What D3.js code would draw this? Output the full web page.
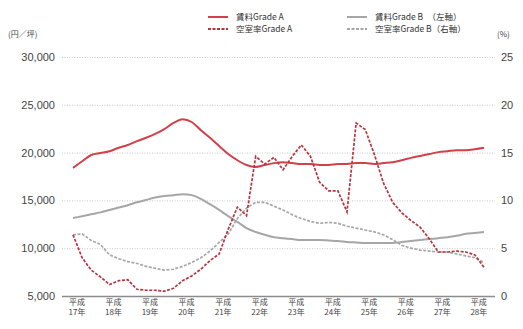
<!DOCTYPE html>
<html>
<head>
<meta charset="utf-8">
<script src="https://cdn.jsdelivr.net/npm/d3@7"></script>
<style>
  body { margin: 0; background: #fff; }
  text { font-family: "Liberation Sans", "Noto Sans CJK JP", sans-serif; }
  .jp { font-family: "Noto Sans CJK JP", sans-serif; }
</style>
</head>
<body>
<svg id="chart" width="523" height="329"></svg>
<script>
// quarterly series, 平成17年 Q1 .. 平成28年 Q2
var years = ['17年','18年','19年','20年','21年','22年','23年','24年','25年','26年','27年','28年'];
var leftTicks = [5000, 10000, 15000, 20000, 25000, 30000];
var rightTicks = [0, 5, 10, 15, 20, 25];

var rentA = [18400,19100,19750,19950,20150,20500,20800,21200,21550,21950,22450,23100,
  23500,23200,22350,21550,20700,19850,19200,18700,18500,18700,18900,19000,
  18900,18800,18800,18700,18700,18800,18800,18900,18900,18800,18900,19000,
  19200,19450,19650,19850,20050,20150,20250,20250,20350,20500];
var rentB = [13150,13350,13550,13750,14000,14250,14500,14800,15050,15300,15450,15550,
  15650,15550,15150,14600,14000,13350,12750,12100,11700,11400,11150,11050,
  10950,10850,10850,10850,10800,10750,10650,10600,10550,10550,10550,10550,
  10650,10750,10850,10950,11050,11150,11300,11500,11600,11700];
var vacA = [6.4,4.0,2.7,2.0,1.2,1.6,1.7,0.7,0.6,0.6,0.5,0.8,
  1.6,2.1,2.8,3.7,4.4,7.0,9.3,8.4,14.6,13.8,14.5,13.2,
  14.6,15.8,14.6,11.9,11.0,11.0,8.8,18.1,17.4,14.8,11.8,9.8,
  8.7,7.9,7.2,6.0,4.6,4.6,4.7,4.6,4.3,3.0];
var vacB = [6.4,6.5,5.8,5.4,4.3,3.9,3.6,3.4,3.1,2.9,2.7,2.8,
  3.1,3.5,4.0,4.7,5.6,6.5,8.1,9.2,9.8,9.8,9.4,9.0,
  8.5,8.1,7.8,7.6,7.7,7.6,7.3,7.1,6.9,6.7,6.4,5.9,
  5.3,5.0,4.8,4.7,4.6,4.6,4.4,4.2,4.0,3.5];

var RED = '#d2404a', RED_D = '#b5343e', GRAY = '#a6a6a6';
var svg = d3.select('#chart');
var plotL = 62, plotR = 495, plotT = 57, plotB = 296;

var x = d3.scaleLinear().domain([0, rentA.length - 1]).range([73, 484]);
var yL = d3.scaleLinear().domain([5000, 30000]).range([plotB, plotT]);
var yR = d3.scaleLinear().domain([0, 25]).range([plotB, plotT]);

// left axis with grid
var gL = svg.append('g').attr('transform', 'translate(' + plotL + ',0)')
  .call(d3.axisLeft(yL).tickValues(leftTicks).tickFormat(d3.format(','))
    .tickSize(-(plotR - plotL)).tickPadding(7));
gL.select('.domain').remove();
gL.selectAll('.tick line')
  .attr('stroke', '#c8c8c8').attr('stroke-dasharray', '1,1.5');
gL.selectAll('.tick').filter(function(d){ return d === 5000; }).select('line')
  .attr('stroke', '#8c8c8c').attr('stroke-width', 1.5).attr('stroke-dasharray', null);
gL.selectAll('.tick text').attr('fill', '#444').style('font-size', '11px');

// right axis labels
var gR = svg.append('g').attr('transform', 'translate(' + plotR + ',0)')
  .call(d3.axisRight(yR).tickValues(rightTicks).tickSize(0).tickPadding(6));
gR.select('.domain').remove();
gR.selectAll('.tick text').attr('fill', '#444').style('font-size', '11px');

// x labels
var xl = svg.append('g').selectAll('g').data(years).enter().append('g')
  .attr('transform', function(d, i){ return 'translate(' + (x(i * 4) + 4) + ',0)'; });
xl.append('text').attr('class', 'jp').attr('y', 305).attr('text-anchor', 'middle')
  .attr('fill', '#444').style('font-size', '8px').text('平成');
xl.append('text').attr('class', 'jp').attr('y', 315).attr('text-anchor', 'middle')
  .attr('fill', '#444').style('font-size', '8px').text(function(d){ return d; });

// units
svg.append('text').attr('class', 'jp').attr('x', 8).attr('y', 37)
  .attr('fill', '#444').style('font-size', '8px').text('(円／坪)');
svg.append('text').attr('class', 'jp').attr('x', 497).attr('y', 37)
  .attr('fill', '#444').style('font-size', '8px').text('(%)');

// lines
var lineL = d3.line().x(function(d, i){ return x(i); }).y(function(d){ return yL(d); })
  .curve(d3.curveMonotoneX);
var lineR = d3.line().x(function(d, i){ return x(i); }).y(function(d){ return yR(d); });

svg.append('path').datum(rentB).attr('d', lineL).attr('fill', 'none')
  .attr('stroke', GRAY).attr('stroke-width', 2);
svg.append('path').datum(vacB).attr('d', lineR).attr('fill', 'none')
  .attr('stroke', GRAY).attr('stroke-width', 1.7).attr('stroke-dasharray', '3,1.5');
svg.append('path').datum(rentA).attr('d', lineL).attr('fill', 'none')
  .attr('stroke', RED).attr('stroke-width', 2);
svg.append('path').datum(vacA).attr('d', lineR).attr('fill', 'none')
  .attr('stroke', RED_D).attr('stroke-width', 1.7).attr('stroke-dasharray', '3,1.5');

// legend
var legend = [
  {label: '賃料Grade A', color: RED, dash: null, lx: 208, ly: 17},
  {label: '空室率Grade A', color: RED_D, dash: '3,1.5', lx: 208, ly: 29},
  {label: '賃料Grade B　（左軸）', color: GRAY, dash: null, lx: 347, ly: 17},
  {label: '空室率Grade B（右軸）', color: GRAY, dash: '3,1.5', lx: 347, ly: 29}
];
var lg = svg.append('g').selectAll('g').data(legend).enter().append('g');
lg.append('line')
  .attr('x1', function(d){ return d.lx; }).attr('x2', function(d){ return d.lx + 20; })
  .attr('y1', function(d){ return d.ly; }).attr('y2', function(d){ return d.ly; })
  .attr('stroke', function(d){ return d.color; }).attr('stroke-width', 2)
  .attr('stroke-dasharray', function(d){ return d.dash; });
lg.append('text').attr('class', 'jp')
  .attr('x', function(d){ return d.lx + 28; }).attr('y', function(d){ return d.ly + 3; })
  .attr('fill', '#333').style('font-size', '8.5px')
  .text(function(d){ return d.label; });
</script>
</body>
</html>
